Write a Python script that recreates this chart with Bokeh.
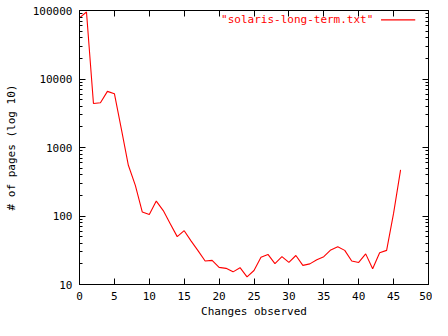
from bokeh.plotting import figure
from bokeh.models import (FixedTicker, PrintfTickFormatter, CustomJSTickFormatter,
                          LinearAxis, LogAxis, Range1d, Label)
from bokeh.embed import file_html
from bokeh.resources import INLINE

# ---- data ----
changes = list(range(0, 47))
pages = [78000, 95000, 4400, 4500, 6600, 6100, 1850, 550, 280, 114,
         105, 165, 120, 77, 50, 61, 43, 31, 22, 22.5,
         17.8, 17.2, 15.3, 17.6, 12.9, 16, 25, 27.5, 20.2, 25.5,
         21, 26.5, 19, 20, 23, 25.5, 32, 35.5, 31.5, 22,
         21, 28, 17, 29, 31.5, 110, 470]
series_name = '"solaris-long-term.txt"'
x_ticks = [0, 5, 10, 15, 20, 25, 30, 35, 40, 45, 50]
y_ticks = [10, 100, 1000, 10000, 100000]
y_minor = [m * d for d in [10, 100, 1000, 10000] for m in range(2, 10)]
x_label = "Changes observed"
y_label = "# of pages (log 10)"

FONT = "DejaVu Sans Mono"
FS = "11px"
RED = "#ff0000"

p = figure(width=432, height=320, y_axis_type="log",
           x_range=Range1d(0, 50), y_range=Range1d(10, 100000),
           output_backend="svg", toolbar_location=None,
           min_border_left=79, min_border_right=4,
           min_border_top=10, min_border_bottom=34)
p.background_fill_color = "white"
p.border_fill_color = "white"
p.outline_line_color = "black"
p.outline_line_width = 1
p.xgrid.visible = False
p.ygrid.visible = False


def style_axis(ax):
    ax.axis_line_color = "black"
    ax.major_tick_in = 6
    ax.major_tick_out = 0
    ax.minor_tick_in = 3
    ax.minor_tick_out = 0
    ax.major_tick_line_color = "black"
    ax.minor_tick_line_color = "black"
    ax.major_label_text_font = FONT
    ax.major_label_text_font_size = FS
    ax.major_label_text_color = "black"
    ax.axis_label_text_font = FONT
    ax.axis_label_text_font_size = FS
    ax.axis_label_text_font_style = "normal"
    ax.axis_label_text_color = "black"


xt = FixedTicker(ticks=x_ticks, minor_ticks=[])
yt = FixedTicker(ticks=y_ticks, minor_ticks=y_minor)

xa = p.xaxis[0]
xa.ticker = xt
xa.axis_label = x_label
xa.major_label_standoff = 7
xa.axis_label_standoff = 2
style_axis(xa)

ya = p.yaxis[0]
ya.ticker = yt
ya.formatter = PrintfTickFormatter(format="%d")
ya.axis_label = y_label
ya.major_label_standoff = 7
ya.axis_label_standoff = 12
style_axis(ya)

blank = CustomJSTickFormatter(code="return ''")

top = LinearAxis(ticker=xt, formatter=blank)
top.major_label_standoff = 0
style_axis(top)
p.add_layout(top, "above")

right = LogAxis(ticker=yt, formatter=blank)
right.major_label_standoff = 0
style_axis(right)
p.add_layout(right, "right")

p.line(changes, pages, line_color=RED, line_width=1.1)

# key (gnuplot style: text then sample line)
key_y = 73000
p.add_layout(Label(x=42.1, y=key_y, text=series_name, text_align="right",
                   text_baseline="middle", text_font=FONT, text_font_size=FS,
                   text_color=RED))
p.segment(x0=[43.2], y0=[key_y], x1=[48.1], y1=[key_y], line_color=RED,
          line_width=1.1)

open("out.html", "w").write(file_html(p, INLINE))
